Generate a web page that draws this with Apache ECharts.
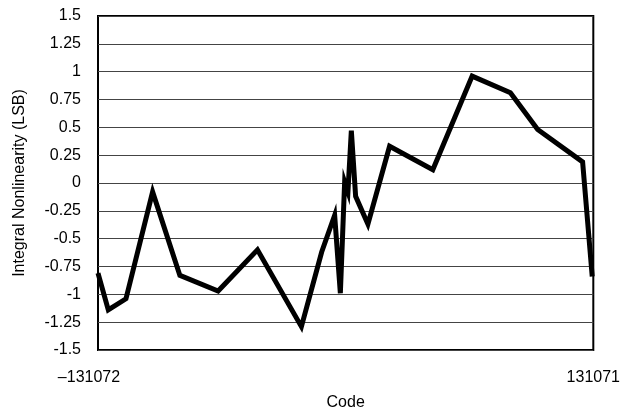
<!DOCTYPE html>
<html>
<head>
<meta charset="utf-8">
<script src="https://cdn.jsdelivr.net/npm/echarts@6/dist/echarts.min.js"></script>
<style>
	html, body { margin: 0; padding: 0; background: #fff; }
	#chart { width: 623px; height: 416px; }
</style>
</head>
<body>
<div id="chart"></div>
<script>
// code positions
const codes = [
	-131072, -125628, -116274, -102163, -87735, -67493, -46670,
	-23417, -12688, -5818, -2805, -532, 1212, 3008, 5281, 11782,
	23250, 46134, 66957, 87199, 101627, 125409, 130500
]
// INL values (LSB)
const inl = [
	-0.81, -1.14, -1.04, -0.08, -0.83, -0.97, -0.60,
	-1.29, -0.62, -0.29, -0.99, 0.01, -0.08, 0.47, -0.12, -0.37,
	0.33, 0.12, 0.96, 0.81, 0.48, 0.19, -0.84
]
const xMin = -131072
const xMax = 131071

const chart = echarts.init(document.getElementById('chart'))
const option = {
	animation: false,
	textStyle: { fontFamily: 'Liberation Sans, Arial, sans-serif' },
	grid: {
		left: 98,
		right: 29,
		top: 16,
		bottom: 64,
		show: true,
		borderColor: '#000',
		borderWidth: 2,
		backgroundColor: '#fff'
	},
	xAxis: {
		type: 'value',
		min: xMin,
		max: xMax,
		splitNumber: 1,
		name: 'Code',
		nameLocation: 'middle',
		nameGap: 45,
		nameTextStyle: { fontSize: 16, color: '#000' },
		axisLine: { show: false },
		axisTick: { show: false },
		splitLine: { show: false },
		axisLabel: {
			showMinLabel: true,
			showMaxLabel: true,
			margin: 20,
			fontSize: 16,
			color: '#000',
			formatter: (v) => {
				if (v === xMin) return '{l|\u2013' + Math.abs(xMin) + '}'
				if (v === xMax) return String(xMax)
				return ''
			},
			rich: {
				l: { fontSize: 16, color: '#000', padding: [0, 18, 0, 0] }
			}
		}
	},
	yAxis: {
		type: 'value',
		min: -1.5,
		max: 1.5,
		interval: 0.25,
		name: 'Integral Nonlinearity (LSB)',
		nameLocation: 'middle',
		nameGap: 70,
		nameRotate: 90,
		nameTextStyle: { fontSize: 16, color: '#000' },
		axisLine: { show: false },
		axisTick: { show: false },
		splitLine: { lineStyle: { color: '#444', width: 1 } },
		axisLabel: {
			margin: 17,
			fontSize: 16,
			color: '#000',
			formatter: (v) => String(Math.round(v * 100) / 100)
		}
	},
	series: [{
		type: 'line',
		data: codes.map((c, i) => [c, inl[i]]),
		showSymbol: false,
		lineStyle: { color: '#000', width: 5, join: 'miter' },
		z: 3
	}]
}
chart.setOption(option, true)
</script>
</body>
</html>
